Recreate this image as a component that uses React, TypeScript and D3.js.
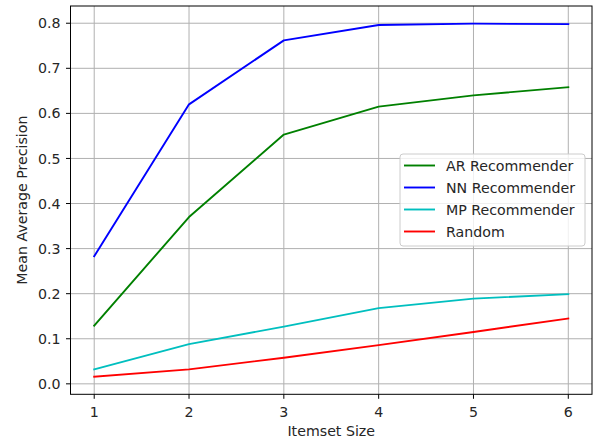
import React from "react";
import * as d3 from "d3";

const itemsetSizes = [1, 2, 3, 4, 5, 6];
const arValues = [0.129, 0.37, 0.553, 0.615, 0.64, 0.658];
const nnValues = [0.283, 0.62, 0.762, 0.796, 0.799, 0.798];
const mpValues = [0.032, 0.088, 0.127, 0.168, 0.189, 0.199];
const randomValues = [0.016, 0.032, 0.058, 0.086, 0.115, 0.145];
const seriesNames = ["AR Recommender", "NN Recommender", "MP Recommender", "Random"];
const seriesColors = ["#008000", "#0000ff", "#00bfbf", "#ff0000"];
const xTicks = [1, 2, 3, 4, 5, 6];
const yTicks = [0, 0.1, 0.2, 0.3, 0.4, 0.5, 0.6, 0.7, 0.8];

const W = 593, H = 441;
const L = 70.5, R = 592, T = 6, B = 394.3;
const FONT = "DejaVu Sans, sans-serif";
const FS = 14.2;

export default function App() {
  const x = d3.scaleLinear().domain([0.75, 6.25]).range([L, R]);
  const y = d3.scaleLinear().domain([-0.0232, 0.8382]).range([B, T]);
  const series = [arValues, nnValues, mpValues, randomValues];
  const line = d3.line<number>().x((_, i) => x(itemsetSizes[i])).y((d) => y(d));
  const legX = 400, legY = 154, legW = 185, legH = 92;
  const rowY = [165.5, 187.5, 209.5, 231.5];
  return (
    <svg width={W} height={H} style={{ position: "absolute", left: 0, top: 0, background: "#fff" }} fontFamily={FONT}>
      <rect x={0} y={0} width={W} height={H} fill="#fff" />
      <g>
        {xTicks.map((t) => (
          <line key={"gx" + t} x1={x(t)} x2={x(t)} y1={T} y2={B} stroke="#b0b0b0" strokeWidth={1} />
        ))}
        {yTicks.map((t) => (
          <line key={"gy" + t} x1={L} x2={R} y1={y(t)} y2={y(t)} stroke="#b0b0b0" strokeWidth={1} />
        ))}
      </g>
      {series.map((s, i) => (
        <path key={i} d={line(s) || ""} fill="none" stroke={seriesColors[i]} strokeWidth={1.9} strokeLinejoin="round" strokeLinecap="square" />
      ))}
      <rect x={L} y={T} width={R - L} height={B - T} fill="none" stroke="#000" strokeWidth={1} />
      {xTicks.map((t) => (
        <g key={"tx" + t}>
          <line x1={x(t)} x2={x(t)} y1={B} y2={B + 4.5} stroke="#000" strokeWidth={1} />
          <text x={x(t)} y={416.7} fontSize={FS} textAnchor="middle" fill="#262626">{t}</text>
        </g>
      ))}
      {yTicks.map((t) => (
        <g key={"ty" + t}>
          <line x1={L - 4.5} x2={L} y1={y(t)} y2={y(t)} stroke="#000" strokeWidth={1} />
          <text x={L - 10} y={y(t)} dy="0.36em" fontSize={FS} textAnchor="end" fill="#262626">{t.toFixed(1)}</text>
        </g>
      ))}
      <text x={(L + R) / 2} y={436} fontSize={FS} textAnchor="middle" fill="#262626">Itemset Size</text>
      <text transform={`translate(27,${(T + B) / 2}) rotate(-90)`} fontSize={FS} textAnchor="middle" fill="#262626">Mean Average Precision</text>
      <rect x={legX} y={legY} width={legW} height={legH} rx={3} fill="#fff" fillOpacity={0.8} stroke="#cccccc" strokeWidth={1} />
      {seriesNames.map((n, i) => (
        <g key={n}>
          <line x1={404} x2={435} y1={rowY[i]} y2={rowY[i]} stroke={seriesColors[i]} strokeWidth={1.9} />
          <text x={446} y={rowY[i]} dy="0.36em" fontSize={FS} fill="#262626">{n}</text>
        </g>
      ))}
    </svg>
  );
}
